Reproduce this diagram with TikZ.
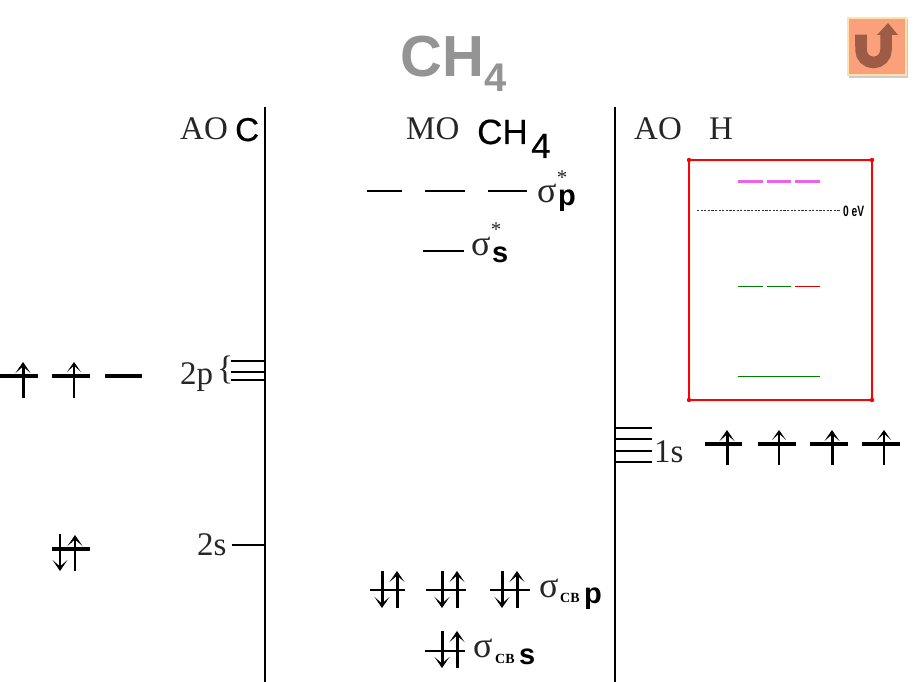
\documentclass[tikz,border=0pt]{standalone}
\usepackage{fontspec}
\setmainfont{Liberation Serif}
\setsansfont{Liberation Sans}
\newfontfamily\heavysans[FakeBold=0.5]{Liberation Sans}
\usetikzlibrary{arrows.meta}

\definecolor{btnfill}{RGB}{250,160,122}
\definecolor{btnedge}{RGB}{255,226,170}
\definecolor{btnarrow}{RGB}{158,92,70}
\definecolor{levelpink}{RGB}{232,100,232}

\tikzset{
  lbl/.style={inner sep=0pt, anchor=base west, text=black!85, font=\fontsize{33}{33}\selectfont},
  sym/.style={inner sep=0pt, anchor=base west, font=\heavysans\fontsize{33}{33}\selectfont},
  orb/.style={inner sep=0pt, anchor=base west, font=\sffamily\bfseries\fontsize{29}{29}\selectfont},
  sig/.style={inner sep=0pt, anchor=base west, text=black!85, font=\fontsize{36}{36}\selectfont},
  cb/.style={inner sep=0pt, anchor=base west, font=\bfseries\fontsize{14}{14}\selectfont},
  star/.style={inner sep=0pt, text=black!85, font=\fontsize{21}{21}\selectfont},
  level/.style={line width=3.2pt},
  thinlevel/.style={line width=2.2pt},
  tick/.style={line width=1.9pt},
  axis/.style={line width=2.4pt},
  spin/.style={line width=3pt, -{Stealth[length=11pt,width=15pt,inset=6.5pt]}},
  thinspin/.style={line width=2.2pt, -{Stealth[length=10pt,width=14pt,inset=6.5pt]}},
  box/.style={red, line width=2.2pt},
  sublevel/.style={line width=1.3pt},
}

\begin{document}
\begin{tikzpicture}[x=1pt,y=-1pt]
\useasboundingbox (0,0) rectangle (916,682);

% title
\node [inner sep=0pt, anchor=base west, text=black!42, font=\sffamily\bfseries\fontsize{58}{58}\selectfont] (title) at (400,77) {CH};
\node [inner sep=0pt, anchor=base west, text=black!42, font=\sffamily\bfseries\fontsize{40}{40}\selectfont] (titlesub) at (484,92) {4};

% button
\fill [black!20] (849,19) rectangle (908,78);
\draw [btnedge, fill=btnfill, line width=2pt] (848,18) rectangle (906,75);
\draw [btnarrow, line width=11.5pt] (855,40.5) -- (861,40.5) -- (861,50) arc [start angle=180, end angle=0, radius=12.5] -- (886,33);
\fill [btnarrow] (877,35) -- (888,23) -- (898,35) -- cycle;

% axes
\draw [axis] (265,107) -- (265,682);
\draw [axis] (615,107) -- (615,682);

% headers
\node [lbl] (aoc) at (180,140) {AO};
\node [sym] (c) at (235,141) {C};
\node [lbl] (mo) at (406,140) {MO};
\node [sym, font=\heavysans\fontsize{35}{35}\selectfont] (ch) at (477,144) {CH};
\node [sym, font=\heavysans\fontsize{35}{35}\selectfont] (chsub) at (531,158) {4};
\node [lbl] (aoh) at (634,140) {AO};
\node [lbl] (h) at (709,140) {H};

% AO of C
\node [lbl] (twop) at (180,384) {2p};
\node [lbl, font=\fontsize{34}{34}\selectfont] (brace) at (217,379) {\{};
\node [lbl] (twos) at (197,555) {2s};
\foreach \y in {361,372,380}
  \draw [tick] (231,\y) -- (265,\y);
\draw [tick] (232,545) -- (265,545);

\foreach \xa/\xb in {0/38,52/90,105/142}
  \draw [level] (\xa,376) -- (\xb,376);
\draw [spin] (23,398) -- (23,362);
\draw [thinspin] (74,398) -- (74,362);

\draw [level] (52,549) -- (90,549);
\draw [spin, line width=2.5pt] (60,534) -- (60,571);
\draw [spin, line width=2.6pt] (75,571) -- (75,535);

% MO antibonding
\foreach \xa/\xb in {367/402,425/465,488/527}
  \draw [thinlevel] (\xa,191) -- (\xb,191);
\draw [thinlevel] (423,251) -- (464,251);
\node [sig] (sigp) at (537,202) {σ};
\node [orb] (p) at (558,205) {p};
\node [star] (starp) at (562,178) {*};
\node [sig] (sigs) at (471,255) {σ};
\node [orb] (s) at (492,262) {s};
\node [star] (stars) at (496,230) {*};

% MO bonding
\foreach \xa/\xb/\xd/\xu in {370/405/382/397,426/466/442/457,490/530/502/517}{
  \draw [thinlevel] (\xa,590) -- (\xb,590);
  \draw [spin] (\xd,571) -- (\xd,608);
  \draw [spin] (\xu,608) -- (\xu,571);
}
\draw [thinlevel] (425,651) -- (465,651);
\draw [spin] (442,631) -- (442,668);
\draw [spin] (457,668) -- (457,631);
\node [sig] (sigcbp) at (539,597) {σ};
\node [cb] (cbp) at (560,602) {CB};
\node [orb] (pb) at (584,603) {p};
\node [sig] (sigcbs) at (473,657) {σ};
\node [cb] (cbs) at (495,663) {CB};
\node [orb] (sb) at (519,664) {s};

% AO of H
\foreach \y in {428,439,451,462}
  \draw [tick] (615,\y) -- (652,\y);
\node [lbl] (ones) at (654,462) {1s};
\foreach \xa/\xb in {705/742,758/796,810/848,862/900}
  \draw [level] (\xa,444) -- (\xb,444);
\draw [spin] (727,465) -- (727,430);
\draw [thinspin] (779,465) -- (779,430);
\draw [spin] (832,465) -- (832,430);
\draw [thinspin] (884,465) -- (884,430);

% inset
\draw [box] (689,160) rectangle (872,400);
\foreach \x/\y in {689/160,872/160,689/400,872/400}
  \fill [red] (\x,\y) circle (2.2pt);
\foreach \xa/\xb in {738/763,767/791,795/820}
  \draw [levelpink, line width=3pt] (\xa,182) -- (\xb,182);
\draw [black!80, line width=1pt, dash pattern=on 2.2pt off 1.4pt] (697,210.5) -- (840,210.5);
\node [inner sep=0pt, anchor=base west, xscale=0.68, font=\sffamily\bfseries\fontsize{15}{15}\selectfont] (zero) at (843,216) {0 eV};
\draw [sublevel, green!50!black] (738,286.6) -- (763,286.6);
\draw [sublevel, green!50!black] (767,286.6) -- (791,286.6);
\draw [sublevel, red!85!black] (795,286.6) -- (820,286.6);
\draw [sublevel, green!50!black] (738,376.5) -- (820,376.5);

\end{tikzpicture}
\end{document}
